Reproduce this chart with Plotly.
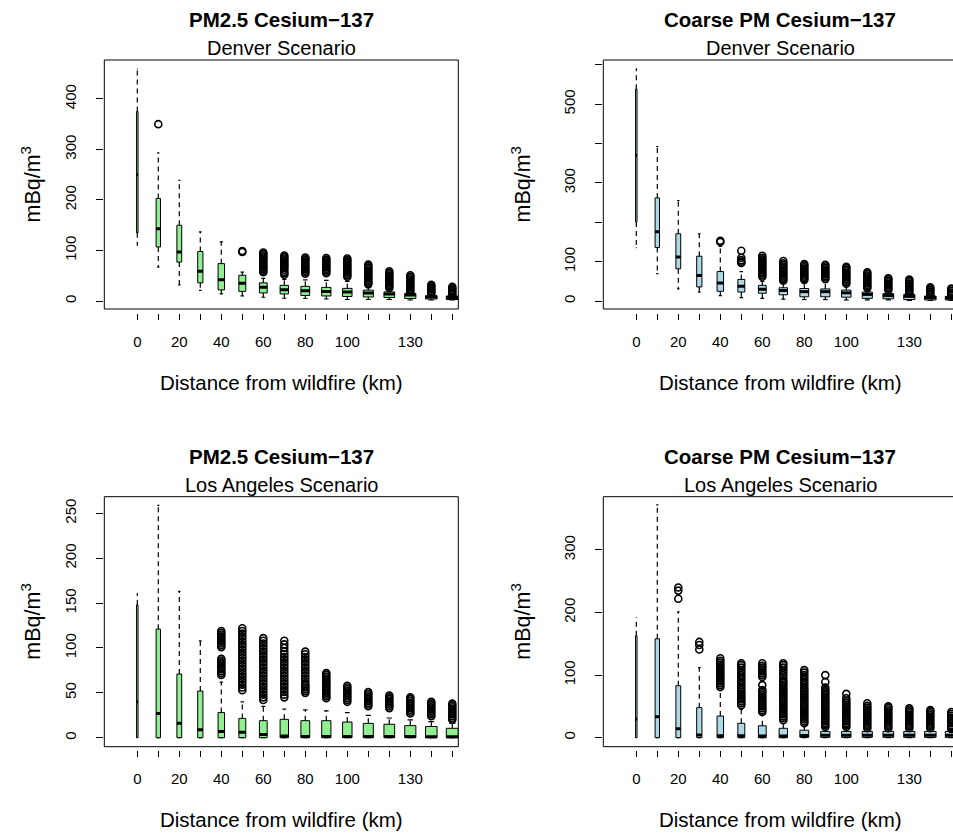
import plotly.graph_objects as go

# ---------------- data ----------------
distance_km = [0, 10, 20, 30, 40, 50, 60, 70, 80, 90, 100, 110, 120, 130, 140, 150]
x_tick_text = ["0", "", "20", "", "40", "", "60", "", "80", "", "100", "", "", "130", "", ""]

# Denver, PM2.5 Cs-137 (mBq/m3)
den_pm25_q1 = [135, 107, 77, 36, 22, 19, 16, 14, 11, 10, 9, 8, 7, 5, 4, 3]
den_pm25_med = [250, 143, 97, 59, 42, 35, 27, 22.5, 20.5, 19, 18, 16, 14, 12, 8, 7]
den_pm25_q3 = [375, 203, 150, 98, 74, 51, 36, 31, 29, 27, 25, 21.5, 18, 15, 10.5, 10]
den_pm25_lo = [110, 67, 32, 21, 14, 10, 7.5, 5.5, 5, 4, 3, 3, 3, 2, 2, 2]
den_pm25_hi = [459, 293, 239, 137, 117, 57, 45, 43, 42, 41, 39, 29, 23, 17, 12.5, 12]
den_pm25_out = [
    [], [350], [], [], [], [97, 99],
    [57, 60, 63, 66, 68, 71, 74, 77, 80, 83, 86, 88, 91, 94, 96],
    [52, 55, 58, 62, 66, 69, 72, 75, 78, 81, 84, 87, 90],
    [54, 57, 60, 63, 66, 69, 72, 75, 78, 81, 84, 86],
    [55, 58, 61, 64, 67, 70, 73, 76, 79, 82, 85],
    [48, 51, 54, 57, 60, 63, 66, 69, 72, 75, 78, 81, 84],
    [33, 36, 39, 42, 45, 48, 51, 54, 57, 60, 63, 66, 69, 72],
    [26, 29, 32, 35, 38, 41, 44, 47, 50, 53, 56, 59],
    [18, 21, 24, 27, 30, 33, 36, 39, 42, 45, 48, 51],
    [14, 17, 20, 23, 26, 29, 32],
    [13, 16, 19, 22, 25, 28],
]

# Denver, Coarse PM Cs-137
den_coarse_q1 = [201, 136, 82, 36, 25, 23, 20, 16, 11, 11, 10, 7, 6, 4, 3, 3]
den_coarse_med = [370, 176, 112, 65, 46, 38, 30, 27, 24, 24, 21, 17, 14, 12, 9, 8]
den_coarse_q3 = [538, 262, 171, 114, 75, 55, 40, 34, 32, 31, 28, 23, 19, 17, 13, 12]
den_coarse_lo = [136, 70, 31, 23, 14, 9, 7, 5, 4, 4, 3, 3, 3, 2, 2, 2]
den_coarse_hi = [590, 392, 255, 171, 139, 75, 50, 48, 48, 47, 40, 30, 24, 20, 14, 13]
den_coarse_out = [
    [], [], [], [], [150, 153], [97, 100, 104, 110, 128],
    [62, 66, 70, 74, 78, 82, 86, 90, 94, 98, 102, 106, 110, 115],
    [52, 56, 60, 64, 68, 72, 76, 80, 84, 88, 92, 96, 102],
    [54, 58, 62, 66, 70, 74, 78, 82, 86, 90, 94],
    [56, 60, 64, 68, 72, 76, 80, 84, 88, 92],
    [44, 48, 52, 56, 60, 64, 68, 72, 76, 80, 84, 87],
    [33, 37, 41, 45, 49, 53, 57, 61, 65, 69, 73],
    [28, 32, 36, 40, 44, 48, 52, 56, 58],
    [20, 24, 28, 32, 36, 40, 44, 48, 52, 55],
    [16, 20, 24, 28, 32, 35],
    [15, 18, 22, 26, 30, 32],
]

# Los Angeles, PM2.5 Cs-137
la_pm25_q1 = [0, 0, 0, 0, 0, 0, 0, 0, 0, 0, 0, 0, 0, 0, 0, 0]
la_pm25_med = [40, 27, 16, 9, 7, 6, 3.5, 2, 1.5, 1.5, 1.5, 1.5, 1.5, 1.5, 1.2, 1]
la_pm25_q3 = [148, 121, 71, 52, 28, 21.5, 19, 20.5, 19, 19, 17.5, 16, 15, 13.5, 12.5, 10.5]
la_pm25_lo = [0, 0, 0, 0, 0, 0, 0, 0, 0, 0, 0, 0, 0, 0, 0, 0]
la_pm25_hi = [161, 259, 163, 108, 62, 40, 35, 32, 31, 30, 28, 25, 22, 20, 18, 16]
la_pm25_out = [
    [], [], [], [],
    [70, 72, 74, 76, 78, 80, 82, 84, 86, 88, 101, 103, 105, 107, 109, 111, 113, 115, 117, 119],
    [53, 56, 59, 62, 65, 68, 71, 74, 77, 80, 83, 86, 89, 92, 95, 98, 101, 104, 107, 110, 113, 116, 119, 122],
    [42, 45, 48, 51, 54, 57, 60, 63, 66, 69, 72, 75, 78, 81, 84, 87, 90, 93, 96, 99, 102, 105, 108, 111],
    [45, 48, 51, 54, 57, 60, 63, 66, 69, 72, 75, 78, 81, 84, 87, 90, 93, 96, 100, 104, 108],
    [50, 52, 54, 56, 58, 60, 63, 66, 69, 72, 75, 78, 81, 84, 87, 90, 93, 96],
    [44, 46, 48, 50, 52, 54, 56, 58, 60, 62, 64, 66, 68, 70, 72],
    [40, 42, 44, 46, 48, 50, 52, 54, 56, 58],
    [35, 37, 39, 41, 43, 45, 47, 49, 51],
    [33, 35, 37, 39, 41, 43, 45, 47],
    [27, 29, 31, 33, 35, 37, 39, 41, 43, 45],
    [24, 26, 28, 30, 32, 34, 36, 38, 40],
    [20, 22, 24, 26, 28, 30, 32, 34, 36, 38],
]

# Los Angeles, Coarse PM Cs-137
la_coarse_q1 = [0, 0, 0, 0, 0, 0, 0, 0, 0.5, 0.5, 0.5, 0.5, 0.5, 0.5, 0.5, 0.5]
la_coarse_med = [30, 33.6, 14.4, 4.3, 3, 3, 2.5, 2.5, 3.5, 4, 4, 4, 4, 4, 4, 4]
la_coarse_q3 = [163, 158, 83, 48, 34.6, 23, 19, 15, 12, 10, 10, 10, 10, 10, 10, 10]
la_coarse_lo = [0, 0, 0, 0, 0, 0, 0, 0, 0, 0, 0, 0, 0, 0, 0, 0]
la_coarse_hi = [192, 372, 201, 112, 75, 45, 38, 26, 21, 16, 16, 14, 14, 14, 14, 13]
la_coarse_out = [
    [], [], [222, 235, 240], [141, 148, 153],
    [81, 84, 87, 90, 93, 96, 99, 102, 105, 108, 111, 114, 117, 120, 123, 127],
    [52, 55, 58, 61, 64, 67, 70, 73, 76, 80, 84, 88, 92, 96, 100, 104, 108, 112, 116, 119],
    [41, 44, 47, 50, 53, 56, 59, 62, 65, 68, 71, 74, 76, 84, 97, 100, 103, 106, 109, 112, 115, 119],
    [28, 31, 34, 37, 40, 43, 46, 49, 52, 55, 58, 61, 64, 67, 70, 73, 76, 79, 82, 85, 88, 91, 95, 100, 104, 108, 112, 116, 119],
    [23, 26, 29, 32, 35, 38, 41, 44, 47, 50, 53, 56, 59, 62, 65, 68, 71, 74, 77, 80, 84, 88, 92, 96, 100, 104, 108],
    [17, 20, 23, 26, 29, 32, 35, 38, 41, 44, 47, 50, 53, 56, 59, 62, 65, 68, 71, 74, 76, 80, 89, 100],
    [17, 20, 23, 26, 29, 32, 35, 38, 41, 44, 47, 50, 53, 56, 59, 63, 70],
    [15, 18, 21, 24, 27, 30, 33, 36, 39, 42, 45, 48, 51, 55],
    [15, 18, 21, 24, 27, 30, 33, 36, 39, 42, 45, 48, 50],
    [15, 18, 21, 24, 27, 30, 33, 36, 39, 42, 45, 47],
    [15, 18, 21, 24, 27, 30, 33, 36, 39, 42, 44],
    [14, 17, 20, 23, 26, 29, 32, 35, 38, 41],
]

# ---------------- style ----------------
W, H = 953, 834
FONT = "Liberation Sans, Arial, Helvetica, sans-serif"
GREEN = "#90EE90"
BLUE = "#ADD8E6"
# varwidth-style box widths (km units on the x axis)
BOX_WIDTH = [0.7, 2.1, 2.3, 2.5, 3.1, 3.3, 3.7, 4.0, 4.2, 4.4, 4.5, 4.8, 5.1, 5.3, 5.5, 5.7]

# frame pixel geometry
LEFT_X = (104.3, 458.3)
RIGHT_X = (603.3, 957.3)
TOP_Y = (60.0, 309.0)
BOT_Y = (496.7, 746.7)

fig = go.Figure()


def px_x(p):
    return p / W


def px_y(p):
    return 1 - p / H


panels = [
    dict(n=1, fx=LEFT_X, fy=TOP_Y, q1=den_pm25_q1, med=den_pm25_med, q3=den_pm25_q3, lo=den_pm25_lo,
         hi=den_pm25_hi, out=den_pm25_out, fill=GREEN, yr=[-15.8, 477],
         tv=[0, 100, 200, 300, 400], tt=["0", "100", "200", "300", "400"],
         title="PM2.5 Cesium−137", sub="Denver Scenario", ylab_x=31),
    dict(n=2, fx=RIGHT_X, fy=TOP_Y, q1=den_coarse_q1, med=den_coarse_med, q3=den_coarse_q3, lo=den_coarse_lo,
         hi=den_coarse_hi, out=den_coarse_out, fill=BLUE, yr=[-20, 612],
         tv=[0, 100, 200, 300, 400, 500, 600], tt=["0", "100", "", "300", "", "500", ""],
         title="Coarse PM Cesium−137", sub="Denver Scenario", ylab_x=521),
    dict(n=3, fx=LEFT_X, fy=BOT_Y, q1=la_pm25_q1, med=la_pm25_med, q3=la_pm25_q3, lo=la_pm25_lo,
         hi=la_pm25_hi, out=la_pm25_out, fill=GREEN, yr=[-10.0, 268.6],
         tv=[0, 50, 100, 150, 200, 250], tt=["0", "50", "100", "150", "200", "250"],
         title="PM2.5 Cesium−137", sub="Los Angeles Scenario", ylab_x=31),
    dict(n=4, fx=RIGHT_X, fy=BOT_Y, q1=la_coarse_q1, med=la_coarse_med, q3=la_coarse_q3, lo=la_coarse_lo,
         hi=la_coarse_hi, out=la_coarse_out, fill=BLUE, yr=[-14.4, 385],
         tv=[0, 100, 200, 300], tt=["0", "100", "200", "300"],
         title="Coarse PM Cesium−137", sub="Los Angeles Scenario", ylab_x=521),
]

annotations = []
shapes = []
KM_PER_PX = 10 / 21.0

for p in panels:
    n = p["n"]
    xa = "x" if n == 1 else f"x{n}"
    ya = "y" if n == 1 else f"y{n}"
    xkey = "xaxis" if n == 1 else f"xaxis{n}"
    ykey = "yaxis" if n == 1 else f"yaxis{n}"

    # boxes
    for i, d in enumerate(distance_km):
        fig.add_trace(go.Box(
            x=[d], q1=[p["q1"][i]], median=[p["med"][i]], q3=[p["q3"][i]],
            lowerfence=[p["q1"][i]], upperfence=[p["q3"][i]],
            width=BOX_WIDTH[i], orientation="v", fillcolor=p["fill"],
            line=dict(color="black", width=1), whiskerwidth=0, boxpoints=False,
            xaxis=xa, yaxis=ya, hoverinfo="skip", showlegend=False))

    wx, wy, sx, sy, mx, my, ox, oy = [], [], [], [], [], [], [], []
    for i, d in enumerate(distance_km):
        bw = BOX_WIDTH[i]
        wx += [d, d, None, d, d, None]
        wy += [p["q3"][i], p["hi"][i], None, p["q1"][i], p["lo"][i], None]
        sx += [d - bw / 4, d + bw / 4, None, d - bw / 4, d + bw / 4, None]
        sy += [p["hi"][i], p["hi"][i], None, p["lo"][i], p["lo"][i], None]
        mx += [d - bw / 2, d + bw / 2, None]
        my += [p["med"][i], p["med"][i], None]
        ox += [d] * len(p["out"][i])
        oy += p["out"][i]

    fig.add_trace(go.Scatter(x=wx, y=wy, mode="lines", line=dict(color="black", width=1.2, dash="5px,4px"),
                             xaxis=xa, yaxis=ya, hoverinfo="skip", showlegend=False))
    fig.add_trace(go.Scatter(x=sx, y=sy, mode="lines", line=dict(color="black", width=1.2),
                             xaxis=xa, yaxis=ya, hoverinfo="skip", showlegend=False))
    fig.add_trace(go.Scatter(x=mx, y=my, mode="lines", line=dict(color="black", width=3),
                             xaxis=xa, yaxis=ya, hoverinfo="skip", showlegend=False))
    fig.add_trace(go.Scatter(x=ox, y=oy, mode="markers",
                             marker=dict(symbol="circle-open", size=7, color="black", line=dict(width=1.6)),
                             xaxis=xa, yaxis=ya, hoverinfo="skip", showlegend=False))

    fx0, fx1 = p["fx"]
    fy0, fy1 = p["fy"]
    dom_x1 = min(fx1, W)
    xr0 = -33.0 * KM_PER_PX
    xr1 = xr0 + (dom_x1 - fx0) * KM_PER_PX

    fig.update_layout(**{
        xkey: dict(domain=[px_x(fx0), px_x(dom_x1)], range=[xr0, xr1], anchor="free",
                   position=px_y(fy1 + 3.5), showline=False, showgrid=False, zeroline=False,
                   ticks="outside", ticklen=6, tickwidth=1, tickcolor="black",
                   tickvals=distance_km, ticktext=x_tick_text, ticklabelstandoff=9,
                   tickfont=dict(family=FONT, size=15, color="black")),
        ykey: dict(domain=[px_y(fy1), px_y(fy0)], range=p["yr"], anchor=xa,
                   showline=False, showgrid=False, zeroline=False,
                   ticks="outside", ticklen=7, tickwidth=1, tickcolor="black",
                   tickvals=p["tv"], ticktext=p["tt"], tickangle=-90, ticklabelstandoff=14,
                   tickfont=dict(family=FONT, size=15, color="black")),
    })

    # frame
    shapes.append(dict(type="rect", xref="paper", yref="paper",
                       x0=px_x(fx0), x1=px_x(fx1), y0=px_y(fy1), y1=px_y(fy0),
                       line=dict(color="black", width=1), fillcolor="rgba(0,0,0,0)", layer="above"))

    cx = (fx0 + fx1) / 2
    annotations.append(dict(text="<b>" + p["title"] + "</b>", x=px_x(cx), y=px_y(fy0 - 40),
                            xref="paper", yref="paper", showarrow=False, xanchor="center", yanchor="middle",
                            font=dict(family=FONT, size=20.5, color="black")))
    annotations.append(dict(text=p["sub"], x=px_x(cx), y=px_y(fy0 - 11.5),
                            xref="paper", yref="paper", showarrow=False, xanchor="center", yanchor="middle",
                            font=dict(family=FONT, size=20, color="black")))
    annotations.append(dict(text="Distance from wildfire (km)", x=px_x(cx), y=px_y(fy1 + 73),
                            xref="paper", yref="paper", showarrow=False, xanchor="center", yanchor="middle",
                            font=dict(family=FONT, size=20.5, color="black")))
    annotations.append(dict(text="mBq/m<sup>3</sup>", x=px_x(p["ylab_x"]), y=px_y((fy0 + fy1) / 2),
                            xref="paper", yref="paper", showarrow=False, xanchor="center", yanchor="middle",
                            textangle=-90, font=dict(family=FONT, size=21.5, color="black")))

fig.update_layout(
    width=W, height=H, margin=dict(l=0, r=0, t=0, b=0),
    paper_bgcolor="white", plot_bgcolor="white",
    boxmode="overlay", showlegend=False,
    annotations=annotations, shapes=shapes,
    font=dict(family=FONT, color="black"),
)

fig.write_html("out.html")
